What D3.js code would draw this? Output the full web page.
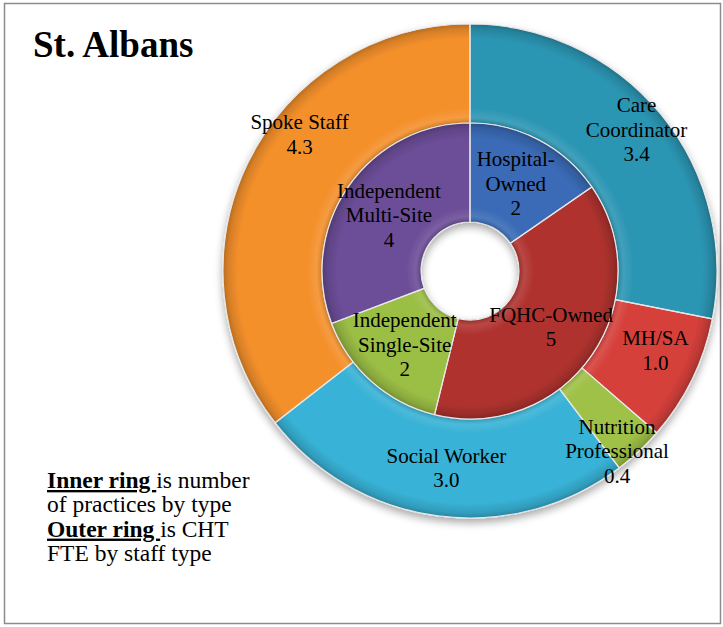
<!DOCTYPE html>
<html>
<head>
<meta charset="utf-8">
<script src="https://cdn.jsdelivr.net/npm/d3@7"></script>
<style>
  html, body { margin: 0; padding: 0; background: #fff; }
  svg { display: block; }
</style>
</head>
<body>
<svg id="chart" width="723" height="627"></svg>
<script>
// ---- Data ----
const innerCategories = ["Hospital-\nOwned", "FQHC-Owned", "Independent\nSingle-Site", "Independent\nMulti-Site"];
const innerValues = [2, 5, 2, 4];
const innerColors = ["#3A6BB6", "#B0332F", "#9BBE45", "#6C4D98"];

const outerCategories = ["Care\nCoordinator", "MH/SA", "Nutrition\nProfessional", "Social Worker", "Spoke Staff"];
const outerValues = [3.4, 1.0, 0.4, 3.0, 4.3];
const outerColors = ["#2C96B4", "#D6403B", "#9FC146", "#38B2D6", "#F4902C"];

const titleText = "St. Albans";
const legendLines = [
  [{t: "Inner ring ", b: true}, {t: "is number", b: false}],
  [{t: "of practices by type", b: false}],
  [{t: "Outer ring ", b: true}, {t: "is CHT", b: false}],
  [{t: "FTE by staff type", b: false}]
];

// ---- Layout ----
const FONT = "'Liberation Serif', 'Times New Roman', Times, 'DejaVu Serif', serif";
const W = 723, H = 627;
const cx = 470, cy = 271;
const rHole = 49, rMid = 148, rOuter = 247;
// manual label nudges for outer ring (as placed in the original)
const outerNudge = [[14, -16], [8, -7], [12, 36], [2, 1], [7, -50]];
const innerNudge = [[0, 0], [0, 0], [0, 0], [0, 0]];

const svg = d3.select("#chart").attr("font-family", FONT);
const defs = svg.append("defs");

// drop shadow
const f = defs.append("filter").attr("id", "shadow").attr("x", "-10%").attr("y", "-10%").attr("width", "120%").attr("height", "125%");
f.append("feGaussianBlur").attr("in", "SourceAlpha").attr("stdDeviation", 4);
f.append("feOffset").attr("dx", 0).attr("dy", 4).attr("result", "ob");
f.append("feComponentTransfer").append("feFuncA").attr("type", "linear").attr("slope", 0.35);
const fm = f.append("feMerge");
fm.append("feMergeNode");
fm.append("feMergeNode").attr("in", "SourceGraphic");

// ring shading gradients (bevel-like: darker at edges)
function ringGrad(id, r0, r1) {
  const g = defs.append("radialGradient").attr("id", id)
    .attr("gradientUnits", "userSpaceOnUse").attr("cx", 0).attr("cy", 0).attr("r", r1);
  const a = r0 / r1;
  const stops = [
    [a, "#000", 0.18], [a + (1 - a) * 0.06, "#fff", 0.10], [a + (1 - a) * 0.15, "#fff", 0.0],
    [a + (1 - a) * 0.85, "#000", 0.0], [a + (1 - a) * 0.95, "#000", 0.12], [1, "#000", 0.25]
  ];
  stops.forEach(s => g.append("stop").attr("offset", s[0]).attr("stop-color", s[1]).attr("stop-opacity", s[2]));
}
ringGrad("gInner", rHole, rMid);
ringGrad("gOuter", rMid, rOuter);

// frame
svg.append("rect").attr("x", 4.5).attr("y", 3.5).attr("width", 716).attr("height", 620)
  .attr("fill", "#fff").attr("stroke", "#8c8c8c").attr("stroke-width", 1.5);

// title
svg.append("text").attr("x", 33).attr("y", 57).attr("font-family", FONT)
  .attr("font-size", 37).attr("font-weight", "bold").attr("fill", "#000").text(titleText);

const pie = d3.pie().sort(null).value(d => d);
const innerArcs = pie(innerValues);
const outerArcs = pie(outerValues);

const arcInner = d3.arc().innerRadius(rHole).outerRadius(rMid);
const arcOuter = d3.arc().innerRadius(rMid).outerRadius(rOuter);

const g = svg.append("g").attr("transform", `translate(${cx},${cy})`);
const donut = g.append("g").attr("filter", "url(#shadow)");

function drawRing(arcs, arcGen, colors, gradId) {
  const rg = donut.append("g");
  rg.selectAll("path.fill").data(arcs).join("path").attr("class", "fill")
    .attr("d", arcGen).attr("fill", (d, i) => colors[i]);
  rg.selectAll("path.shade").data(arcs).join("path").attr("class", "shade")
    .attr("d", arcGen).attr("fill", `url(#${gradId})`);
  rg.selectAll("path.edge").data(arcs).join("path").attr("class", "edge")
    .attr("d", arcGen).attr("fill", "none").attr("stroke", "#e6e6e6").attr("stroke-width", 1.2)
    .attr("stroke-linejoin", "round");
}
drawRing(outerArcs, arcOuter, outerColors, "gOuter");
drawRing(innerArcs, arcInner, innerColors, "gInner");

// labels
function drawLabels(arcs, arcGen, cats, vals, nudge, fmt) {
  arcs.forEach((d, i) => {
    const [x, y] = arcGen.centroid(d);
    const lines = cats[i].split("\n").concat([fmt(vals[i])]);
    const lh = 24.5;
    const x0 = x + nudge[i][0];
    const y0 = y + nudge[i][1] - (lines.length - 1) * lh / 2 + 7;
    const t = g.append("text").attr("text-anchor", "middle").attr("font-family", FONT)
      .attr("font-size", 21).attr("fill", "#000");
    lines.forEach((ln, k) => {
      t.append("tspan").attr("x", x0).attr("y", y0 + k * lh).text(ln);
    });
  });
}
drawLabels(outerArcs, arcOuter, outerCategories, outerValues, outerNudge, d3.format(".1f"));
drawLabels(innerArcs, arcInner, innerCategories, innerValues, innerNudge, d3.format("d"));

// legend note
const lg = svg.append("text").attr("font-family", FONT).attr("font-size", 23.5).attr("fill", "#000");
legendLines.forEach((parts, k) => {
  const line = lg.append("tspan").attr("x", 47).attr("y", 488 + k * 24.3);
  parts.forEach((p, j) => {
    const ts = (j === 0) ? line : lg.append("tspan");
    ts.text(p.t);
    if (p.b) ts.attr("font-weight", "bold").attr("text-decoration", "underline");
  });
});
</script>
</body>
</html>
